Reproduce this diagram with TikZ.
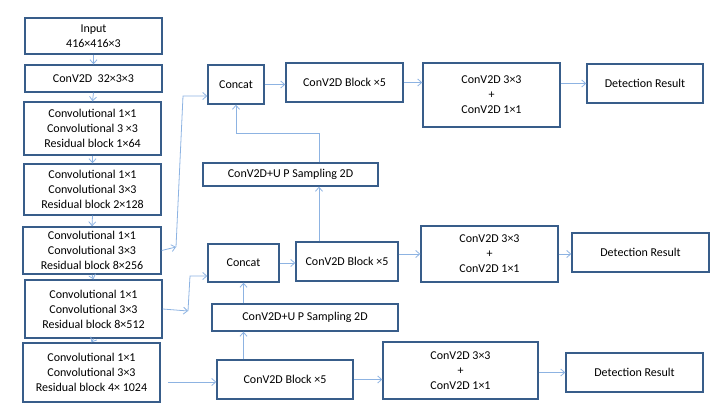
\documentclass[tikz,border=0pt]{standalone}
\usepackage{fontspec}
\setmainfont{Carlito}
\usetikzlibrary{arrows.meta}
\definecolor{boxblue}{RGB}{56,93,138}
\definecolor{arrblue}{RGB}{141,179,226}
\begin{document}
\begin{tikzpicture}[x=1pt, y=-1pt, blk/.style = {draw=boxblue, line width=1.4pt, align=center, inner sep=0pt, font=\fontsize{12}{15}\selectfont}, sz/.style 2 args = {minimum width=#1pt, minimum height=#2pt}, arr/.style = {draw=arrblue, line width=0.8pt, -{Straight Barb[length=4pt,width=7pt]}}]
\useasboundingbox (0,0) rectangle (722,417);
\node[blk, sz={137}{36}](in) at (93.5,36) {Input\\416×416×3}; \node[blk, sz={137}{27}](conv0) at (93.5,78.5) {ConV2D~~32×3×3};
\node[blk, sz={137}{53}](res1) at (92.5,128.5) {Convolutional 1×1\\Convolutional 3 ×3\\Residual block 1×64}; \node[blk, sz={137}{51}](res2) at (92.5,189.5) {Convolutional 1×1\\Convolutional 3×3\\Residual block 2×128};
\node[blk, sz={138}{47}](res3) at (92,250.5) {Convolutional 1×1\\Convolutional 3×3\\Residual block 8×256}; \node[blk, sz={137}{58}](res4) at (93.5,309) {Convolutional 1×1\\Convolutional 3×3\\Residual block 8×512};
\node[blk, sz={137}{59}](res5) at (91.5,372.5) {Convolutional 1×1\\Convolutional 3×3\\Residual block 4× 1024};
\node[blk, sz={56}{39}](cat1) at (236,84.5) {Concat}; \node[blk, sz={117}{39}](blk1) at (344.5,82.5) {ConV2D Block ×5}; \node[blk, sz={137}{64}](head1) at (491.5,95) {ConV2D 3×3\\+\\ConV2D 1×1}; \node[blk, sz={116}{39}](det1) at (645,83.5) {Detection Result};
\node[blk, sz={175}{23}](up1) at (290.5,174.5) {ConV2D+U P Sampling 2D};
\node[blk, sz={71}{38}](cat2) at (243.5,263) {Concat}; \node[blk, sz={102}{39}](blk2) at (347,261.5) {ConV2D Block ×5}; \node[blk, sz={137}{56}](head2) at (489.5,254) {ConV2D 3×3\\+\\ConV2D 1×1}; \node[blk, sz={137}{39}](det2) at (640.5,252.5) {Detection Result};
\node[blk, sz={186}{27}](up2) at (305,317.5) {ConV2D+U P Sampling 2D};
\node[blk, sz={136}{39}](blk3) at (285,379.5) {ConV2D Block ×5}; \node[blk, sz={155}{57}](head3) at (460.5,370.5) {ConV2D 3×3\\+\\ConV2D 1×1}; \node[blk, sz={137}{39}](det3) at (634.5,372.5) {Detection Result};
\coordinate (j1) at (176,247); \coordinate (j2) at (183,96); \coordinate (j3) at (188,311); \coordinate (j4) at (190,276); \coordinate (j5) at (168,382); \coordinate (k1) at (319,133);
% backbone
\draw[arr] (in.south) -- (conv0.north); \draw[arr] (conv0.south) -- (res1.north); \draw[arr] (res1.south) -- (res2.north); \draw[arr] (res2.south) -- (res3.north); \draw[arr] (res3.south) -- (res4.north); \draw[arr] (res4.south) -- (res5.north);
% routes to the heads
\draw[arr] (res3.east) -- (j1); \draw[arr] (j1) -- (j2) -- (j2 -| cat1.west); \draw[arr] (res4.east) -- (j3); \draw[arr] (j3) -- (j4) -- (j4 -| cat2.west); \draw[arr] (j5) -- (j5 -| blk3.west);
\draw[arr] (cat1.east) -- (cat1.east -| blk1.west); \draw[arr] (blk1.east) -- (blk1.east -| head1.west); \draw[arr] (det1.west -| head1.east) -- (det1.west);
\draw[arr] (k1 |- blk2.north) -- (k1 |- up1.south); \draw[arr] (k1 |- up1.north) -- (k1) -| (cat1.south);
\draw[arr] (cat2.east) -- (cat2.east -| blk2.west); \draw[arr] (head2.west -| blk2.east) -- (head2.west); \draw[arr] (head2.east) -- (head2.east -| det2.west);
\draw[arr] (cat2.south |- up2.north) -- (cat2.south); \draw[arr] (cat2.south |- blk3.north) -- (cat2.south |- up2.south);
\draw[arr] (blk3.east) -- (blk3.east -| head3.west); \draw[arr] (det3.west -| head3.east) -- (det3.west);
\end{tikzpicture}
\end{document}
